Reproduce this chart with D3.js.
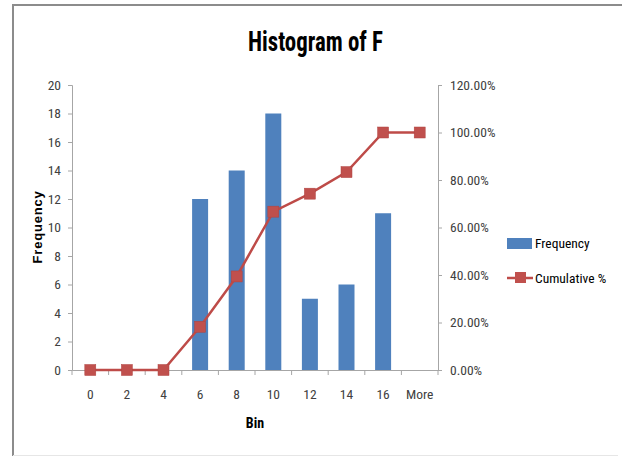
<!DOCTYPE html>
<html><head><meta charset="utf-8">
<script src="https://cdn.jsdelivr.net/npm/d3@7"></script>
<style>body{margin:0;background:#fff}svg{display:block}</style>
</head><body><svg id="c" width="622" height="456"></svg>
<script>
const bins = ["0","2","4","6","8","10","12","14","16","More"];
const frequency = [0,0,0,12,14,18,5,6,11,0];
const cumulativePct = [0,0,0,18.18,39.39,66.67,74.24,83.33,100,100];
const yTicks = [0,2,4,6,8,10,12,14,16,18,20];
const y2Ticks = [0,20,40,60,80,100,120];

const NARROW = '"Liberation Sans Narrow","Roboto Condensed","Liberation Sans",sans-serif';
const WIDE = '"Liberation Sans",Arial,sans-serif';
const svg = d3.select("#c");
const L = 72, R = 438, T = 85, B = 370;
const x = d3.scaleBand().domain(bins).range([L, R]);
const y = d3.scaleLinear().domain([0,20]).range([B, T]);
const y2 = d3.scaleLinear().domain([0,120]).range([B, T]);
const axisCol = "#a6a6a6", textCol = "#404040";

// frame
svg.append("line").attr("x1",13).attr("x2",622).attr("y1",5).attr("y2",5).attr("stroke","#8c8c8c").attr("stroke-width",2);
svg.append("line").attr("x1",13).attr("x2",13).attr("y1",4).attr("y2",456).attr("stroke","#8c8c8c").attr("stroke-width",2);
svg.append("line").attr("x1",13).attr("x2",618).attr("y1",455.5).attr("y2",455.5).attr("stroke","#e6e6e6").attr("stroke-width",1);

// title
svg.append("text").attr("x",248).attr("y",51).attr("font-size",28).attr("font-weight","bold")
  .attr("font-family",NARROW).attr("fill","#000")
  .attr("textLength",135).attr("lengthAdjust","spacingAndGlyphs").text("Histogram of F");

// left axis
const gy = svg.append("g").attr("transform",`translate(${L},0)`).call(d3.axisLeft(y).tickValues(yTicks).tickSize(4).tickPadding(7));
// right axis
const gy2 = svg.append("g").attr("transform",`translate(${R},0)`).call(d3.axisRight(y2).tickValues(y2Ticks).tickSize(4).tickPadding(8).tickFormat(d=>d.toFixed(2)+"%"));
// bottom axis
const gx = svg.append("g").attr("transform",`translate(0,${B})`).call(d3.axisBottom(x).tickSize(0).tickPadding(19));
[gy,gy2,gx].forEach(g=>{
  g.select(".domain").attr("stroke",axisCol);
  g.selectAll(".tick line").attr("stroke",axisCol);
  g.selectAll("text").attr("fill",textCol).attr("font-size",13.5).attr("font-family",NARROW);
});
// category boundary ticks
const bounds = bins.map(b=>x(b)).concat([R]);
gx.selectAll(".btick").data(bounds).enter().append("line").attr("class","btick")
  .attr("x1",d=>d).attr("x2",d=>d).attr("y1",0).attr("y2",5).attr("stroke",axisCol);

// bars
const bw = 16;
svg.append("g").selectAll("rect").data(frequency).enter().append("rect")
  .attr("x",(d,i)=>x(bins[i])+x.bandwidth()/2-bw/2).attr("width",bw)
  .attr("y",d=>y(d)).attr("height",d=>B-y(d)).attr("fill","#4f81bd");

// line
const line = d3.line().x((d,i)=>x(bins[i])+x.bandwidth()/2).y(d=>y2(d));
svg.append("path").datum(cumulativePct).attr("d",line).attr("fill","none").attr("stroke","#be4b48").attr("stroke-width",2.5);
const ms = 11;
svg.append("g").selectAll("rect").data(cumulativePct).enter().append("rect")
  .attr("x",(d,i)=>x(bins[i])+x.bandwidth()/2-ms/2).attr("y",d=>y2(d)-ms/2)
  .attr("width",ms).attr("height",ms).attr("fill","#c0504d").attr("stroke","#b04340").attr("stroke-width",0.5);

// axis titles
svg.append("text").attr("transform","translate(42,227) rotate(-90)").attr("text-anchor","middle")
  .attr("font-size",13).attr("font-weight","bold").attr("font-family",WIDE).attr("fill","#000")
  .attr("letter-spacing",0.8).text("Frequency");
svg.append("text").attr("x",255).attr("y",428).attr("text-anchor","middle")
  .attr("font-size",14).attr("font-weight","bold").attr("font-family",NARROW).attr("fill","#000").text("Bin");

// legend
const lg = svg.append("g");
lg.append("rect").attr("x",507).attr("y",238).attr("width",25).attr("height",11).attr("fill","#4f81bd");
lg.append("text").attr("x",535).attr("y",248).attr("font-size",13.5).attr("font-family",NARROW).attr("fill","#000").text("Frequency");
lg.append("line").attr("x1",507).attr("x2",533).attr("y1",278).attr("y2",278).attr("stroke","#be4b48").attr("stroke-width",2.5);
lg.append("rect").attr("x",515).attr("y",272).attr("width",11).attr("height",11).attr("fill","#c0504d");
lg.append("text").attr("x",535).attr("y",283).attr("font-size",13.5).attr("font-family",NARROW).attr("fill","#000").text("Cumulative %");
</script></body></html>
